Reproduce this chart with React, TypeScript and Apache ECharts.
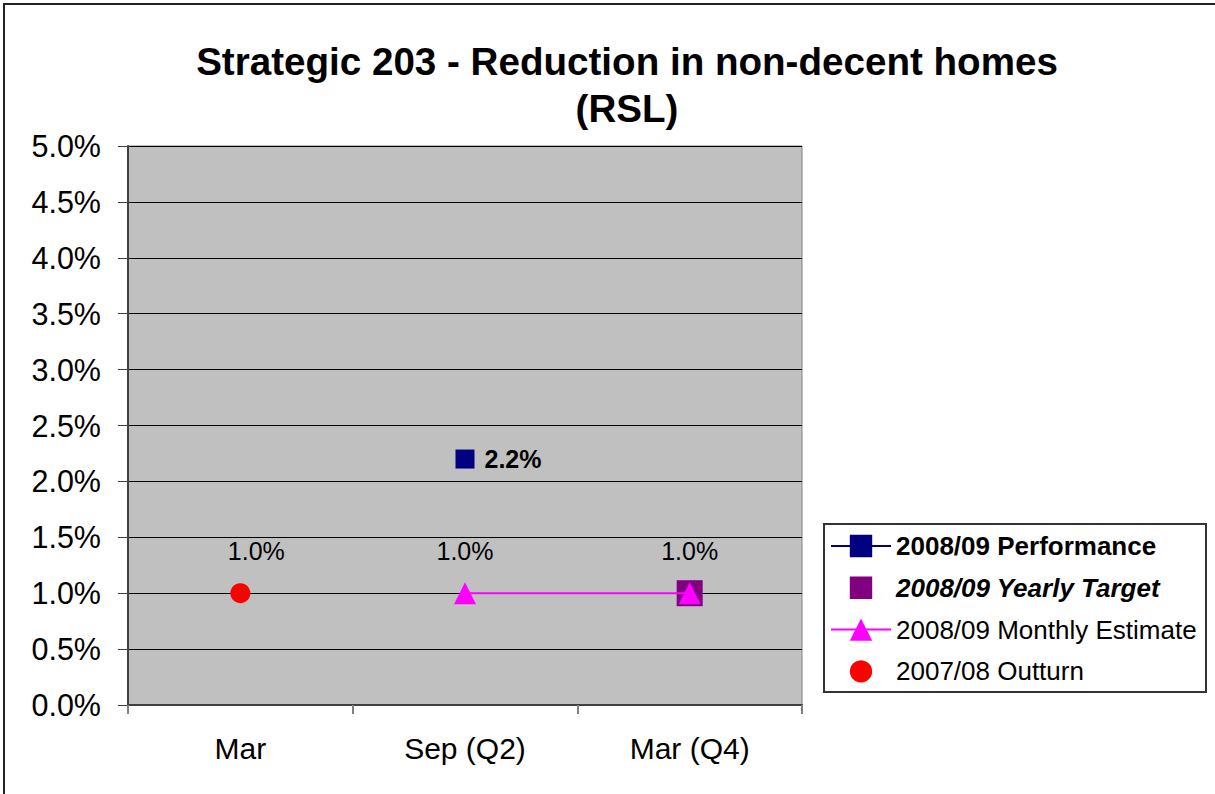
import React, { useEffect, useRef } from "react";
import * as echarts from "echarts";

const categories = ["Mar", "Sep (Q2)", "Mar (Q4)"];
const performance = [null, 2.2, null];
const yearlyTarget = [null, null, 1.0];
const monthlyEstimate = [null, 1.0, 1.0];
const outturn = [1.0, null, null];
const seriesNames = [
  "2008/09 Performance",
  "2008/09 Yearly Target",
  "2008/09 Monthly Estimate",
  "2007/08 Outturn",
];
const titleText = "Strategic 203 - Reduction in non-decent homes\n(RSL)";

const FONT = "'Liberation Sans', Arial, sans-serif";

export default function App() {
  const ref = useRef<HTMLDivElement>(null);
  useEffect(() => {
    if (!ref.current) return;
    const chart = echarts.init(ref.current, null, { renderer: "svg" });
    const pct = (p: any) => Number(p.value).toFixed(1) + "%";
    chart.setOption({
      animation: false,
      backgroundColor: "#ffffff",
      title: {
        text: titleText,
        left: 622,
        top: 33,
        textAlign: "center",
        textStyle: {
          fontFamily: FONT,
          fontSize: 38.6,
          fontWeight: "bold",
          color: "#000",
          lineHeight: 47,
        },
      },
      graphic: [
        {
          type: "rect",
          shape: { x: 4, y: 4, width: 1230, height: 820 },
          style: { fill: "none", stroke: "#222", lineWidth: 2 },
          silent: true,
        },
        {
          type: "rect",
          shape: { x: 824, y: 524, width: 382, height: 168 },
          style: { fill: "#fff", stroke: "#333", lineWidth: 2 },
          silent: true,
          z: 1,
        },
      ],
      legend: {
        orient: "vertical",
        left: 830,
        top: 533,
        itemWidth: 60,
        itemHeight: 28,
        itemGap: 15.8,
        padding: 0,
        z: 5,
        textStyle: { fontFamily: FONT, fontSize: 26, color: "#000", padding: [0, 0, 0, 0] },
        data: [
          { name: seriesNames[0], textStyle: { fontWeight: "bold" } },
          { name: seriesNames[1], textStyle: { fontWeight: "bold", fontStyle: "italic" } },
          { name: seriesNames[2] },
          { name: seriesNames[3] },
        ],
      },
      grid: {
        left: 128,
        top: 146,
        width: 674,
        height: 559,
        show: true,
        backgroundColor: "#C0C0C0",
        borderColor: "#808080",
        borderWidth: 1,
      },
      xAxis: {
        type: "category",
        data: categories,
        boundaryGap: true,
        axisLine: { show: true, lineStyle: { color: "#404040", width: 2 } },
        axisTick: { show: true, length: 9, lineStyle: { color: "#808080", width: 2 } },
        axisLabel: { fontFamily: FONT, fontSize: 30, color: "#000", margin: 28 },
        splitLine: { show: false },
      },
      yAxis: {
        type: "value",
        min: 0,
        max: 5,
        interval: 0.5,
        axisLine: { show: true, lineStyle: { color: "#404040", width: 2 } },
        axisTick: { show: true, length: 10, lineStyle: { color: "#404040", width: 1 } },
        axisLabel: {
          fontFamily: FONT,
          fontSize: 30.5,
          color: "#000",
          margin: 27,
          formatter: (v: number) => v.toFixed(1) + "%",
        },
        splitLine: { show: true, lineStyle: { color: "#000", width: 1 } },
      },
      series: [
        {
          name: seriesNames[0],
          type: "line",
          data: performance,
          symbol: "rect",
          symbolSize: 19,
          itemStyle: { color: "#000080" },
          lineStyle: { color: "#000080", width: 2 },
          label: {
            show: true,
            position: "right",
            distance: 10,
            formatter: pct,
            fontFamily: FONT,
            fontSize: 25,
            fontWeight: "bold",
            color: "#000",
          },
          z: 4,
        },
        {
          name: seriesNames[1],
          type: "line",
          data: yearlyTarget,
          symbol: "rect",
          symbolSize: 26,
          itemStyle: { color: "#800080" },
          lineStyle: { width: 0, opacity: 0 },
          z: 2,
        },
        {
          name: seriesNames[2],
          type: "line",
          data: monthlyEstimate,
          symbol: "triangle",
          symbolSize: 22,
          itemStyle: { color: "#FF00FF" },
          lineStyle: { color: "#FF00FF", width: 2 },
          label: {
            show: true,
            position: "top",
            distance: 19,
            formatter: pct,
            fontFamily: FONT,
            fontSize: 25,
            color: "#000",
          },
          z: 3,
        },
        {
          name: seriesNames[3],
          type: "line",
          data: outturn,
          symbol: "circle",
          symbolSize: 20,
          itemStyle: { color: "#FF0000" },
          lineStyle: { width: 0, opacity: 0 },
          label: {
            show: true,
            position: "top",
            distance: 20,
            offset: [16, 0],
            formatter: pct,
            fontFamily: FONT,
            fontSize: 25,
            color: "#000",
          },
          z: 3,
        },
      ],
    });
    return () => chart.dispose();
  }, []);
  return (
    <div
      ref={ref}
      style={{ position: "fixed", left: 0, top: 0, width: 1215, height: 794 }}
    />
  );
}
